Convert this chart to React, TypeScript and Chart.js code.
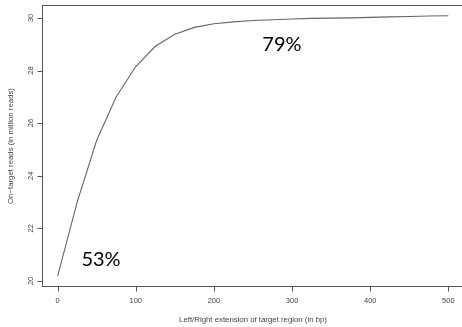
import React, { useEffect, useRef } from "react";
import { Chart, registerables } from "chart.js";

Chart.register(...registerables);

const extensions = [0, 25, 50, 75, 100, 125, 150, 175, 200, 225, 250, 275, 300, 325, 350, 375, 400, 425, 450, 475, 500];
const onTargetReads = [20.18, 23.0, 25.35, 27.0, 28.15, 28.92, 29.38, 29.64, 29.78, 29.85, 29.9, 29.93, 29.96, 29.98, 29.99, 30.0, 30.02, 30.04, 30.05, 30.07, 30.08];
const xTickValues = [0, 100, 200, 300, 400, 500];
const yTickValues = [20, 22, 24, 26, 28, 30];
const xTitle = "Left/Right extension of target region (in bp)";
const yTitle = "On\u2212target reads (in million reads)";
const annotations = [
  { text: "53%", x: 55.5, y: 20.8 },
  { text: "79%", x: 287, y: 28.97 },
];

const rPlotPlugin = {
  id: "rPlot",
  afterDraw(chart: any) {
    const { ctx, chartArea } = chart;
    const xs = chart.scales.x;
    const ys = chart.scales.y;
    const L = Math.round(chartArea.left) + 0.5;
    const T = Math.round(chartArea.top) + 0.5;
    const R = Math.round(chartArea.right) + 0.5;
    const B = Math.round(chartArea.bottom) - 0.5;
    ctx.save();
    ctx.strokeStyle = "#555";
    ctx.lineWidth = 1;
    ctx.strokeRect(L, T, R - L, B - T);
    ctx.beginPath();
    xTickValues.forEach((v) => {
      const px = Math.round(xs.getPixelForValue(v)) + 0.5;
      ctx.moveTo(px, B);
      ctx.lineTo(px, B + 5);
    });
    yTickValues.forEach((v) => {
      const py = Math.round(ys.getPixelForValue(v)) + 0.5;
      ctx.moveTo(L, py);
      ctx.lineTo(L - 5, py);
    });
    ctx.stroke();
    ctx.fillStyle = "#444";
    ctx.font = "7.5px 'Liberation Sans', Arial, sans-serif";
    ctx.textAlign = "center";
    ctx.textBaseline = "middle";
    xTickValues.forEach((v) => {
      ctx.fillText(String(v), xs.getPixelForValue(v), B + 14);
    });
    yTickValues.forEach((v) => {
      ctx.save();
      ctx.translate(L - 12, ys.getPixelForValue(v));
      ctx.rotate(-Math.PI / 2);
      ctx.fillText(String(v), 0, 0);
      ctx.restore();
    });
    ctx.font = "7.8px 'Liberation Sans', Arial, sans-serif";
    ctx.fillText(xTitle, 253, 320);
    ctx.save();
    ctx.translate(11, (T + B) / 2);
    ctx.rotate(-Math.PI / 2);
    ctx.fillText(yTitle, 0, 0);
    ctx.restore();
    ctx.fillStyle = "#000";
    ctx.font = "20px Lato, 'Open Sans', sans-serif";
    annotations.forEach((a) => {
      ctx.fillText(a.text, xs.getPixelForValue(a.x), ys.getPixelForValue(a.y));
    });
    ctx.restore();
  },
};

export default function App() {
  const ref = useRef<HTMLCanvasElement>(null);
  useEffect(() => {
    if (!ref.current) return;
    const chart = new Chart(ref.current, {
      type: "line",
      data: {
        datasets: [
          {
            data: extensions.map((x, i) => ({ x, y: onTargetReads[i] })),
            borderColor: "#666",
            borderWidth: 1.1,
            pointRadius: 0,
            tension: 0,
            fill: false,
          },
        ],
      },
      options: {
        animation: false,
        responsive: false,
        maintainAspectRatio: false,
        layout: { padding: { left: 42, top: 5, right: 6, bottom: 40 } },
        plugins: { legend: { display: false }, tooltip: { enabled: false } },
        scales: {
          x: { type: "linear", min: -20, max: 520, display: false },
          y: { type: "linear", min: 19.77, max: 30.49, display: false },
        },
      },
      plugins: [rPlotPlugin],
    });
    return () => chart.destroy();
  }, []);
  return (
    <div style={{ position: "fixed", left: 0, top: 0, width: 462, height: 327, overflow: "hidden", background: "#fff" }}>
      <canvas ref={ref} width={470} height={327} style={{ width: 470, height: 327, display: "block" }} />
    </div>
  );
}
